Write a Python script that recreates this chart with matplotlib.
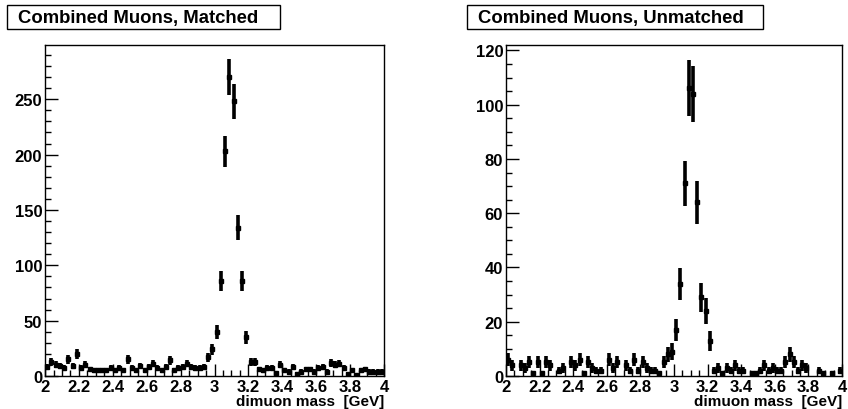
import numpy as np
import matplotlib
matplotlib.use("Agg")
import matplotlib.pyplot as plt
from matplotlib.ticker import MultipleLocator, FormatStrFormatter

plt.rcParams['font.family'] = ['Liberation Sans', 'DejaVu Sans']
plt.rcParams['font.weight'] = 'bold'

# 80 bins of 25 MeV from 2 to 4 GeV
edges = np.linspace(2.0, 4.0, 81)
centers = 0.5 * (edges[:-1] + edges[1:])

matched = [8, 13, 10, 9, 7, 15, 9, 20, 7, 10,
           6, 5, 5, 5, 5, 7, 5, 7, 5, 15,
           7, 5, 9, 5, 8, 11, 7, 5, 8, 14,
           5, 7, 8, 11, 8, 7, 7, 8, 17, 24,
           40, 86, 203, 270, 248, 134, 86, 35, 13, 13,
           6, 5, 7, 7, 3, 10, 5, 4, 8, 2,
           4, 6, 6, 4, 7, 8, 4, 12, 10, 11,
           7, 2, 5, 1, 5, 6, 4, 4, 4, 4]

unmatched = [6, 4, 0, 4, 3, 5, 1, 5, 1, 5,
             4, 0, 2, 3, 0, 5, 4, 6, 1, 5,
             3, 2, 2, 0, 6, 3, 5, 0, 4, 2,
             6, 2, 5, 3, 2, 2, 1, 5, 8, 9,
             17, 34, 71, 106, 104, 64, 29, 24, 13, 2,
             3, 1, 3, 2, 4, 2, 2, 0, 1, 1,
             2, 4, 2, 3, 2, 2, 5, 8, 5, 2,
             4, 3, 0, 0, 2, 1, 0, 1, 0, 2]

titles = ["Combined Muons, Matched", "Combined Muons, Unmatched"]
ymax = [299, 122]
ymajor = [50, 20]
yminor = [10, 5]

fig = plt.figure(figsize=(8.48, 4.10), dpi=100)
ax_pos = [[0.0531, 0.0805, 0.3997, 0.8073],
          [0.5967, 0.0805, 0.3963, 0.8073]]
box_pos = [(0.0083, 0.927, 0.322), (0.551, 0.927, 0.349)]

for k, counts in enumerate([matched, unmatched]):
    ax = fig.add_axes(ax_pos[k])
    y = np.array(counts, dtype=float)
    keep = y > 0
    ax.errorbar(centers[keep], y[keep], yerr=np.sqrt(y[keep]), fmt='s',
                color='black', ms=3.5, elinewidth=2.6, capsize=0)
    ax.set_xlim(2, 4)
    ax.set_ylim(0, ymax[k])
    ax.xaxis.set_major_locator(MultipleLocator(0.2))
    ax.xaxis.set_minor_locator(MultipleLocator(0.05))
    ax.xaxis.set_major_formatter(FormatStrFormatter('%g'))
    ax.yaxis.set_major_locator(MultipleLocator(ymajor[k]))
    ax.yaxis.set_minor_locator(MultipleLocator(yminor[k]))
    ax.tick_params(which='both', direction='in', top=False, right=False,
                   labelsize=12, width=1, pad=2)
    ax.tick_params(which='major', length=9)
    ax.tick_params(which='minor', length=4.5)
    for s in ax.spines.values():
        s.set_linewidth(1)
    ax.set_xlabel("dimuon mass  [GeV]", fontsize=11, fontweight='bold',
                  loc='right', labelpad=0)

    bx, by, bw = box_pos[k]
    fig.text(bx + 0.013, by + 0.029, titles[k], fontsize=13.3, fontweight='bold',
             va='center', ha='left')
    fig.patches.append(plt.Rectangle((bx, by), bw, 0.058, transform=fig.transFigure,
                                     fill=False, ec='black', lw=1))

fig.savefig("out.png", dpi=100)
